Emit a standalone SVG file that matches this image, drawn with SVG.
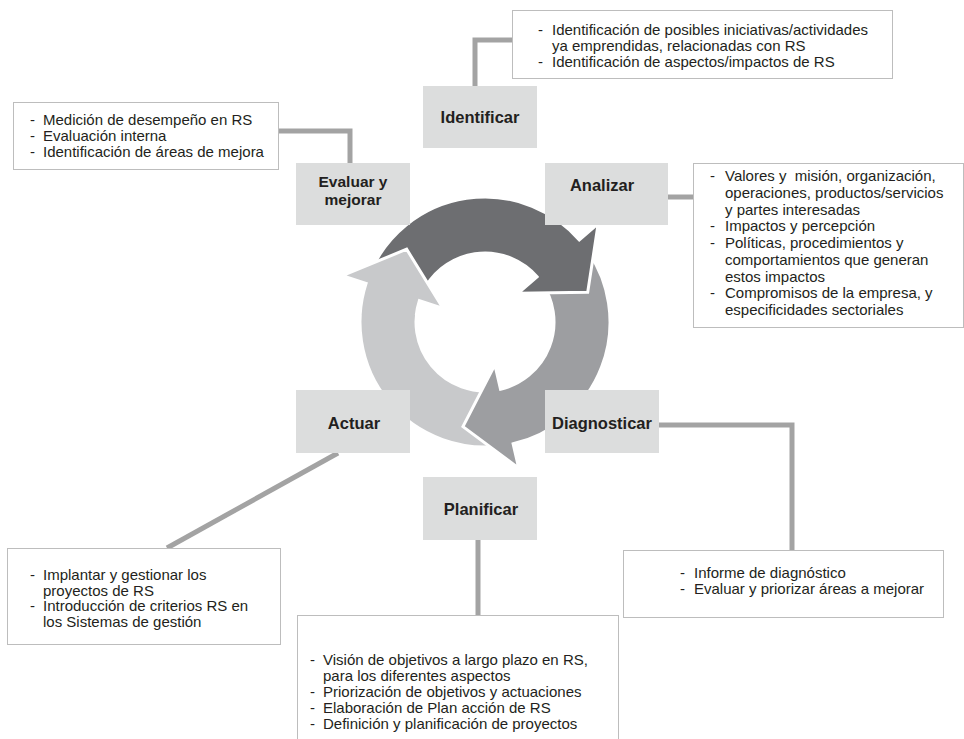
<svg xmlns="http://www.w3.org/2000/svg" width="964" height="739" viewBox="0 0 964 739">
<style>
.node{fill:#dcdddd}
.lbl{font-family:"Liberation Sans",Arial,sans-serif;font-weight:bold;font-size:16.5px;fill:#231f20;text-anchor:middle}
.lbl2{font-size:15.5px}
.tbox{fill:#ffffff;stroke:#bdbdbd;stroke-width:1}
.txt{font-family:"Liberation Sans",Arial,sans-serif;font-size:15px;fill:#231f20}
.con{fill:none;stroke:#a3a3a3;stroke-width:5}
.arr{stroke:#ffffff;stroke-width:3;stroke-linejoin:miter}
</style>
<defs>
<clipPath id="lightHeadClip"><rect x="330" y="235" width="125" height="80"/></clipPath>
<path id="lightArrow" d="M 500.23 446.07 A 125 125 0 0 1 366.12 283.37 L 342.34 275.65 L 406.66 249.23 L 443.15 308.4 L 419.38 300.68 A 69 69 0 0 0 493.41 390.49 Z"/>
</defs>
<rect width="964" height="739" fill="#ffffff"/>

<g id="cycle">
<use href="#lightArrow" class="arr" fill="#c8c9cb"/>
<path class="arr" fill="#9d9ea1" d="M 587.4 250.3 A 125 125 0 0 1 513.12 443.8 L 518.74 468.16 L 462.97 426.63 L 494.9 364.87 L 500.52 389.23 A 69 69 0 0 0 541.52 282.42 Z"/>
<path class="arr" fill="#6d6e71" d="M 370.81 271.16 A 125 125 0 0 1 579.34 239.99 L 598.2 223.6 L 587.7 292.3 L 518.21 293.13 L 537.07 276.73 A 69 69 0 0 0 421.97 293.94 Z"/>
<use href="#lightArrow" class="arr" fill="#c8c9cb" clip-path="url(#lightHeadClip)"/>
</g>

<g id="connectors">
<path class="con" d="M 475 86 V 40 H 512"/>
<path class="con" d="M 278 131 H 350 V 163"/>
<path class="con" d="M 668 197 H 693"/>
<path class="con" d="M 659 425 H 792 V 550"/>
<path class="con" d="M 338 453 L 167 548"/>
<path class="con" d="M 478 540 V 615"/>
</g>

<g id="identificar">
<rect class="node" x="423" y="86" width="114" height="62"/>
<text class="lbl" x="480" y="123">Identificar</text>
</g>
<g id="evaluar">
<rect class="node" x="296" y="163" width="114" height="62"/>
<text class="lbl lbl2"><tspan x="353" y="187">Evaluar y</tspan><tspan x="353" y="205">mejorar</tspan></text>
</g>
<g id="analizar">
<rect class="node" x="545" y="163" width="123" height="62"/>
<text class="lbl" x="602" y="191">Analizar</text>
</g>
<g id="diagnosticar">
<rect class="node" x="545" y="390" width="114" height="63"/>
<text class="lbl" x="602" y="429">Diagnosticar</text>
</g>
<g id="actuar">
<rect class="node" x="296" y="390" width="114" height="63"/>
<text class="lbl" x="354" y="429">Actuar</text>
</g>
<g id="planificar">
<rect class="node" x="423" y="477" width="114" height="63"/>
<text class="lbl" x="481" y="515">Planificar</text>
</g>

<g id="identificar-notes">
<rect class="tbox" x="512.5" y="10.5" width="380" height="68"/>
<text class="txt"><tspan x="538" y="35">-</tspan><tspan x="552" y="35">Identificación de posibles iniciativas/actividades</tspan><tspan x="552" y="51">ya emprendidas, relacionadas con RS</tspan><tspan x="538" y="67">-</tspan><tspan x="552" y="67">Identificación de aspectos/impactos de RS</tspan></text>
</g>
<g id="evaluar-notes">
<rect class="tbox" x="13.5" y="102.5" width="265" height="67"/>
<text class="txt"><tspan x="30" y="125">-</tspan><tspan x="43" y="125">Medición de desempeño en RS</tspan><tspan x="30" y="141">-</tspan><tspan x="43" y="141">Evaluación interna</tspan><tspan x="30" y="157">-</tspan><tspan x="43" y="157">Identificación de áreas de mejora</tspan></text>
</g>
<g id="analizar-notes">
<rect class="tbox" x="693.5" y="163.5" width="270" height="164"/>
<text class="txt"><tspan x="710" y="181">-</tspan><tspan x="725" y="181">Valores y&#160; misión, organización,</tspan><tspan x="725" y="197.7">operaciones, productos/servicios</tspan><tspan x="725" y="214.5">y partes interesadas</tspan><tspan x="710" y="231.2">-</tspan><tspan x="725" y="231.2">Impactos y percepción</tspan><tspan x="710" y="248">-</tspan><tspan x="725" y="248">Políticas, procedimientos y</tspan><tspan x="725" y="264.7">comportamientos que generan</tspan><tspan x="725" y="281.5">estos impactos</tspan><tspan x="710" y="298.2">-</tspan><tspan x="725" y="298.2">Compromisos de la empresa, y</tspan><tspan x="725" y="315">especificidades sectoriales</tspan></text>
</g>
<g id="diagnosticar-notes">
<rect class="tbox" x="623.5" y="550.5" width="320" height="67"/>
<text class="txt"><tspan x="680" y="578">-</tspan><tspan x="694" y="578">Informe de diagnóstico</tspan><tspan x="680" y="594">-</tspan><tspan x="694" y="594">Evaluar y priorizar áreas a mejorar</tspan></text>
</g>
<g id="actuar-notes">
<rect class="tbox" x="7.5" y="548.5" width="273" height="96"/>
<text class="txt"><tspan x="30" y="580">-</tspan><tspan x="43" y="580">Implantar y gestionar los</tspan><tspan x="43" y="595.5">proyectos de RS</tspan><tspan x="30" y="611">-</tspan><tspan x="43" y="611">Introducción de criterios RS en</tspan><tspan x="43" y="626.5">los Sistemas de gestión</tspan></text>
</g>
<g id="planificar-notes">
<rect class="tbox" x="297.5" y="615.5" width="321" height="140"/>
<text class="txt"><tspan x="310" y="665">-</tspan><tspan x="323" y="665">Visión de objetivos a largo plazo en RS,</tspan><tspan x="323" y="681">para los diferentes aspectos</tspan><tspan x="310" y="697">-</tspan><tspan x="323" y="697">Priorización de objetivos y actuaciones</tspan><tspan x="310" y="713">-</tspan><tspan x="323" y="713">Elaboración de Plan acción de RS</tspan><tspan x="310" y="729">-</tspan><tspan x="323" y="729">Definición y planificación de proyectos</tspan></text>
</g>
</svg>
